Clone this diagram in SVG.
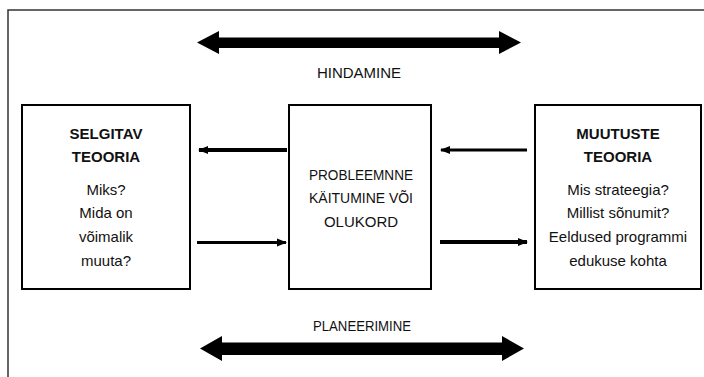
<svg xmlns="http://www.w3.org/2000/svg" width="704" height="377" viewBox="0 0 704 377">
<style>
.frame{fill:none;stroke:#333;stroke-width:1.5}
.box{fill:#fff;stroke:#000;stroke-width:2}
.t{font-family:"Liberation Sans",Arial,sans-serif;font-size:15px;fill:#111;text-anchor:middle}
.b{font-weight:bold}
.conn{stroke:#000;fill:none}
.big{fill:#000}
</style>
<defs>
<marker id="ah" markerUnits="userSpaceOnUse" markerWidth="10" markerHeight="10" refX="9" refY="5" orient="auto">
<path d="M0,1 L10,5 L0,9 Z" fill="#000"/>
</marker>
</defs>
<rect width="704" height="377" fill="#fff"/>
<path class="frame" d="M8,377 V10 H704"/>
<g id="connectors">
<polygon class="big" points="197,42.5 219,31 219,37.5 499,37.5 499,31 521,42.5 499,54 499,48 219,48 219,54"/>
<polygon class="big" points="200,348.5 222,336 222,342.5 502,342.5 502,336 524,348.5 502,361 502,355 222,355 222,361"/>
<path class="conn" stroke-width="4" d="M287,150 H199" marker-end="url(#ah)"/>
<path class="conn" stroke-width="3" d="M197,242.5 H286" marker-end="url(#ah)"/>
<path class="conn" stroke-width="3" d="M527,150 H441" marker-end="url(#ah)"/>
<path class="conn" stroke-width="4" d="M440,242 H527" marker-end="url(#ah)"/>
</g>
<g id="hindamine"><text class="t" x="359" y="78">HINDAMINE</text></g>
<g id="planeerimine"><text class="t" x="362" y="331" textLength="98" lengthAdjust="spacingAndGlyphs">PLANEERIMINE</text></g>
<g id="selgitav">
<rect class="box" x="22" y="105" width="168" height="184"/>
<text class="t b" x="106" y="139">SELGITAV</text>
<text class="t b" x="106" y="162">TEOORIA</text>
<text class="t" x="106" y="195">Miks?</text>
<text class="t" x="106" y="218">Mida on</text>
<text class="t" x="106" y="242">võimalik</text>
<text class="t" x="106" y="266">muuta?</text>
</g>
<g id="probleem">
<rect class="box" x="289" y="105" width="142" height="184"/>
<text class="t" x="361" y="180" textLength="104" lengthAdjust="spacingAndGlyphs">PROBLEEMNNE</text>
<text class="t" x="361" y="203" textLength="104" lengthAdjust="spacingAndGlyphs">KÄITUMINE VÕI</text>
<text class="t" x="361" y="227">OLUKORD</text>
</g>
<g id="muutuste">
<rect class="box" x="535" y="105" width="166" height="184"/>
<text class="t b" x="618" y="139">MUUTUSTE</text>
<text class="t b" x="618" y="162">TEOORIA</text>
<text class="t" x="618" y="195">Mis strateegia?</text>
<text class="t" x="618" y="218">Millist sõnumit?</text>
<text class="t" x="618" y="242">Eeldused programmi</text>
<text class="t" x="618" y="266">edukuse kohta</text>
</g>
</svg>
